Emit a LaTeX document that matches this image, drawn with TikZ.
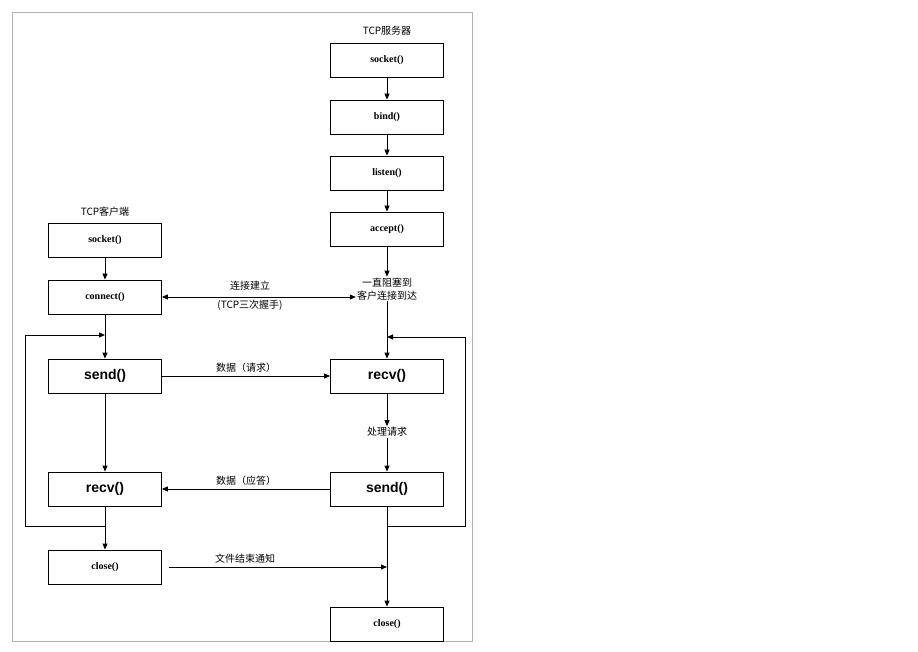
\documentclass[tikz,border=0pt]{standalone}
\usepackage{fontspec}
\setmainfont{Liberation Serif}
\newfontfamily\cjk{Noto Sans CJK SC}
\newfontfamily\sansf{Liberation Sans}
\usetikzlibrary{arrows.meta}
\begin{document}
\begin{tikzpicture}[x=1pt, y=-1pt, >={Triangle[length=6pt,width=5pt]},
  box/.style={draw, thick, minimum width=113pt, minimum height=34pt, inner sep=0pt, font=\fontsize{10}{12}\selectfont\bfseries},
  big/.style={box, font=\fontsize{14}{16}\sansf\bfseries},
  txt/.style={font=\fontsize{10}{13}\cjk, align=center, inner sep=1pt}]
\useasboundingbox (0,0) rectangle (918,652);
\draw[gray!60, thick] (12,12) rectangle (472,641);

\node[txt] at (387,31) (ts){TCP服务器};
\node[txt] at (105,212) (tc){TCP客户端};

\node[box] at (387,60) (a){socket()};
\node[box] at (387,117) (b){bind()};
\node[box] at (387,173) (c){listen()};
\node[box] at (387,229) (d){accept()};
\node[txt] at (387,289) (e){一直阻塞到\\客户连接到达};
\node[big] at (387,376) (f){recv()};
\node[txt] at (387,432) (g){处理请求};
\node[big] at (387,489) (h){send()};
\node[box] at (387,624) (i){close()};

\node[box] at (105,240) (p){socket()};
\node[box] at (105,297) (q){connect()};
\node[big] at (105,376) (r){send()};
\node[big] at (105,489) (s){recv()};
\node[box] at (105,567) (t){close()};

\coordinate (lj) at (105,335);
\coordinate (rj) at (387,337);
\coordinate (lb) at (105,526);
\coordinate (rb) at (387,526);
\coordinate (cl) at (387,567);

\path[->,draw,thick]
    (a) edge (b) (b) edge (c) (c) edge (d)
    (d) edge (e) (e) edge (f) (f) edge (g) (g) edge (h)
    (h) edge (i)
    (p) edge (q) (q) edge (r) (r) edge (s) (s) edge (t);
\draw[<->,thick] (q.east) -- (e.west |- q.east);
\draw[->,thick] (r) -- node[txt, above=2pt]{数据（请求）} (f);
\draw[->,thick] (h) -- node[txt, above=2pt]{数据（应答）} (s);
\draw[->,thick] ([xshift=7pt]t.east) -- node[txt, above=2pt, pos=0.35]{文件结束通知} (cl);
\node[txt, above] at (250,292) {连接建立};
\node[txt, below] at (250,299) {(TCP三次握手)};
\draw[->,thick] (lb) -| (25,335) -- (lj);
\draw[->,thick] (rb) -| (465,337) -- (rj);
\end{tikzpicture}
\end{document}
